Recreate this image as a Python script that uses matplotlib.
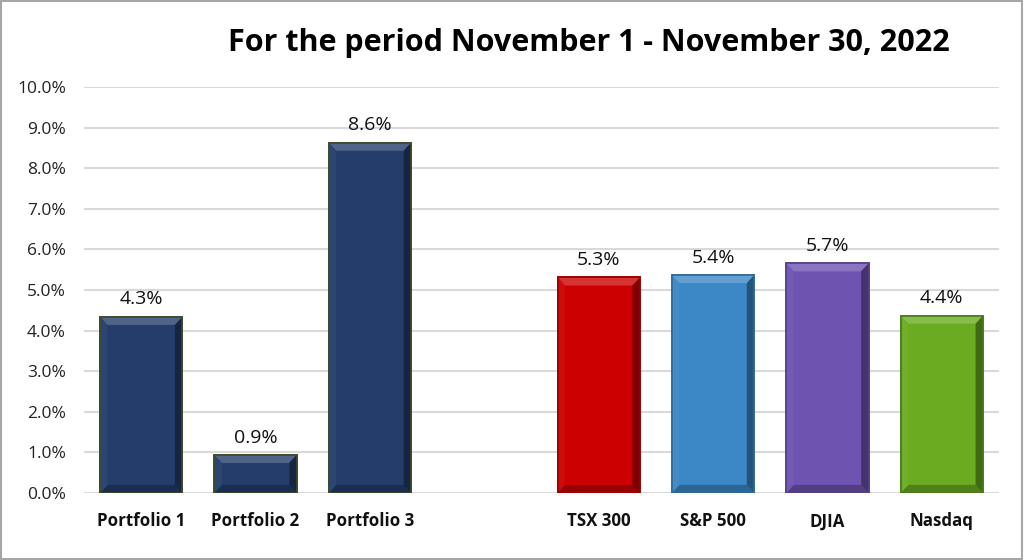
import matplotlib.pyplot as plt
from matplotlib.patches import Polygon, Rectangle
from matplotlib.colors import to_rgb
import numpy as np

# chart data
categories = ["Portfolio 1", "Portfolio 2", "Portfolio 3", "", "TSX 300", "S&P 500", "DJIA", "Nasdaq"]
values = [4.34, 0.94, 8.63, None, 5.31, 5.37, 5.66, 4.37]
colors = ["#243d6b", "#243d6b", "#243d6b", None, "#cc0000", "#3c87c5", "#6f53b0", "#6bab22"]
edges = ["#3b4a26", "#3b4a26", "#3b4a26", None, "#9a0000", "#2f6a9a", "#56418a", "#4a7a18"]
yticks = np.arange(0, 10.01, 1.0)
title = "For the period November 1 - November 30, 2022"

plt.rcParams['font.family'] = ['Open Sans', 'DejaVu Sans']

fig = plt.figure(figsize=(10.24, 5.6), dpi=100)
ax = fig.add_axes([0.082, 0.1196, 0.8936, 0.725])

x = np.arange(len(categories))
bar_w = 0.72


def shade(c, f):
    r, g, b = to_rgb(c)
    if f > 1:
        return tuple(v + (1 - v) * (f - 1) for v in (r, g, b))
    return tuple(v * f for v in (r, g, b))


for xi, v, c, ec in zip(x, values, colors, edges):
    if v is None:
        continue
    bars = ax.bar(xi, v, width=bar_w, color=c, edgecolor=ec, linewidth=1.2, zorder=3)
    # bevel effect
    b = bars[0]
    x0, y0 = b.get_x(), b.get_y()
    x1, y1 = x0 + b.get_width(), y0 + b.get_height()
    dx, dy = 0.065, 0.2
    top = [(x0, y1), (x1, y1), (x1 - dx, y1 - dy), (x0 + dx, y1 - dy)]
    bot = [(x0, y0), (x1, y0), (x1 - dx, y0 + dy), (x0 + dx, y0 + dy)]
    left = [(x0, y0), (x0, y1), (x0 + dx, y1 - dy), (x0 + dx, y0 + dy)]
    right = [(x1, y0), (x1, y1), (x1 - dx, y1 - dy), (x1 - dx, y0 + dy)]
    for pts, f in [(top, 1.2), (bot, 0.75), (left, 1.04), (right, 0.62)]:
        ax.add_patch(Polygon(pts, closed=True, facecolor=shade(c, f), edgecolor='none', zorder=4))
    ax.add_patch(Rectangle((x0, y0), x1 - x0, y1 - y0, fill=False, edgecolor=ec, linewidth=1.2, zorder=5))
    ax.annotate(f"{v:.1f}%", (xi, v), xytext=(0, 6), textcoords="offset points",
                ha='center', va='bottom', fontsize=14, color='#111111')

ax.set_xlim(-0.5, len(categories) - 0.5)
ax.set_ylim(0, 10)
ax.set_yticks(yticks)
ax.set_yticklabels([f"{t:.1f}%" for t in yticks], fontsize=12.5, color='#222222')
ax.set_xticks(x)
ax.set_xticklabels(categories, fontsize=12.2, fontweight='bold', color='#111111')
ax.tick_params(axis='both', length=0)
ax.tick_params(axis='y', pad=13)
ax.tick_params(axis='x', pad=14)
for s in ax.spines.values():
    s.set_visible(False)
ax.grid(axis='y', color='#d9d9d9', linewidth=1.5, zorder=0)
ax.set_axisbelow(True)

fig.text(0.575, 0.923, title, ha='center', va='center', fontsize=22, fontweight='bold', color='#000000')

# outer border
fig.patches.append(Rectangle((0.001, 0.002), 0.997, 0.996, transform=fig.transFigure,
                             fill=False, edgecolor='#a6a6a6', linewidth=1.5))

fig.savefig("out.png", dpi=100)
